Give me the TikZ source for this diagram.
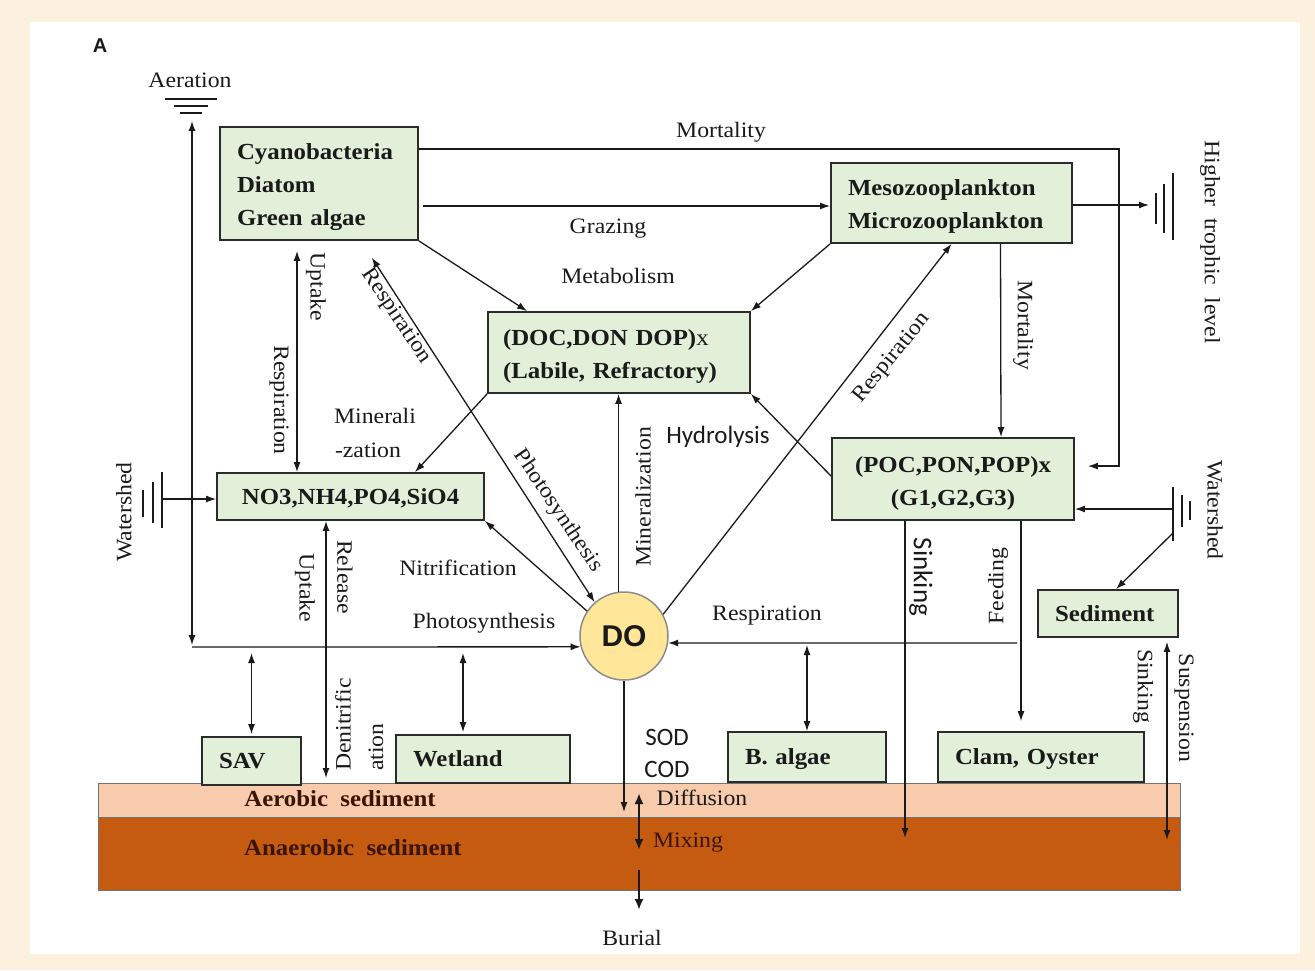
\documentclass[tikz,border=0pt]{standalone}
\usepackage{fontspec}
\setmainfont[FakeStretch=1.08]{Liberation Serif}
\newfontfamily\sansf{Carlito}
\newfontfamily\arialf{Liberation Sans}
\usetikzlibrary{arrows.meta,calc}
\definecolor{bgbeige}{HTML}{FBF1DE}
\definecolor{boxgreen}{HTML}{E2F0D9}
\definecolor{aerob}{HTML}{F8CBAD}
\definecolor{anaerob}{HTML}{C55A11}
\definecolor{doyellow}{HTML}{FFE699}
\definecolor{ink}{HTML}{1A1A1A}
\definecolor{edge}{HTML}{2B2B2B}
\definecolor{sedtext}{HTML}{3A1404}
\begin{document}
\begin{tikzpicture}[x=1pt,y=-1pt,
  lbl/.style={font=\fontsize{22}{24}\selectfont, text=ink, inner sep=0pt},
  slbl/.style={font=\sansf\fontsize{25}{27}\selectfont, text=ink, inner sep=0pt},
  compbox/.style={draw=edge, fill=boxgreen, line width=1.8pt, inner xsep=17pt, inner ysep=0pt, align=left, font=\bfseries\fontsize{23}{33}\selectfont, text=ink},
  conn/.style={line width=1.3pt, draw=ink},
  arr/.style={conn, -{Latex[length=10pt,width=7pt]}},
  arrboth/.style={conn, {Latex[length=10pt,width=7pt]}-{Latex[length=10pt,width=7pt]}},
  thickarr/.style={line width=2.6pt, draw=ink, -{Latex[length=11pt,width=9pt]}},
  thickboth/.style={line width=2.6pt, draw=ink, {Latex[length=11pt,width=9pt]}-{Latex[length=11pt,width=9pt]}},
  gnd/.style={line width=1.5pt, draw=ink}
]
\useasboundingbox (0,0) rectangle (1315,970);
\fill[bgbeige] (0,0) rectangle (1315,970);
\fill[white] (30,22) rectangle (1300,954);

% sediment layers
\node[draw=black!55, line width=1pt, fill=aerob, minimum width=1082pt, minimum height=34pt, inner sep=0pt] (aer) at (639,800) {};
\node[draw=black!55, line width=1pt, fill=anaerob, minimum width=1082pt, minimum height=73pt, inner sep=0pt] (anaer) at (639,853.5) {};
\node[lbl, font=\bfseries\fontsize{23}{24}\selectfont, text=sedtext] (aertxt) at (340,799) {Aerobic\ \ sediment};
\node[lbl, font=\bfseries\fontsize{23}{24}\selectfont, text=sedtext] (anaertxt) at (353,848) {Anaerobic\ \ sediment};

% boxes
\node[compbox, text depth=63pt, text width=164pt, minimum height=113pt] (cyano) at (319,183.5) {Cyanobacteria\\Diatom\\Green algae};
\node[compbox, text depth=30pt, text width=207pt, minimum height=80pt] (meso) at (951.5,203) {Mesozooplankton\\Microzooplankton};
\node[compbox, text depth=29pt, inner xsep=15pt, text width=232pt, minimum height=81pt] (doc) at (619,352.5) {(DOC,DON DOP)\textmd{x}\\(Labile, Refractory)};
\node[compbox, text depth=-3pt, align=center, text width=233pt, minimum height=47pt] (no3) at (350.5,496.5) {NO3,NH4,PO4,SiO4};
\node[compbox, text depth=29pt, align=center, text width=208pt, minimum height=82pt] (poc) at (953,479) {(POC,PON,POP)x\\(G1,G2,G3)};
\node[compbox, text depth=-3pt, text width=106pt, minimum height=47pt] (sed) at (1108,613.5) {Sediment};
\node[compbox, text depth=-3pt, text width=65pt, minimum height=48pt] (sav) at (251.5,761) {SAV};
\node[compbox, text depth=-3pt, text width=140pt, minimum height=48pt] (wet) at (483,759) {Wetland};
\node[compbox, text depth=-3pt, text width=124pt, minimum height=50pt] (balg) at (807,757) {B. algae};
\node[compbox, text depth=-3pt, text width=172pt, minimum height=50pt] (clam) at (1041,757) {Clam, Oyster};
\node[circle, draw=black!45, line width=1.5pt, fill=doyellow, minimum size=88pt, inner sep=0pt, font=\arialf\bfseries\fontsize{30}{30}\selectfont, text=ink] (DO) at (624,636) {DO};

% ground symbols
\draw[gnd] (165,99) -- (217,99) (174,106) -- (208,106) (180,113) -- (202,113);
\draw[gnd] (1156,193) -- (1156,224) (1164,184) -- (1164,233) (1173,173) -- (1173,240);
\draw[gnd] (143,490) -- (143,517) (153,482) -- (153,523) (162,472) -- (162,528);
\draw[gnd] (1173,487) -- (1173,541) (1182,495) -- (1182,527) (1190,501) -- (1190,520);

% free-end coordinates
\coordinate (aerTip) at (192,121);
\coordinate (lc) at (192,647);
\coordinate (lcTop) at (192,645);
\coordinate (htTip) at (1149,205);
\coordinate (wsR) at (1173,509);
\coordinate (wsR2) at (1173,533);
\coordinate (wsL) at (162,499);
\coordinate (sinkEnd) at (905,838);
\coordinate (respR) at (1017,643);
\coordinate (denEnd) at (326,778);
\coordinate (sodEnd) at (624,812);
\coordinate (mixTop) at (639,793);
\coordinate (mixBot) at (639,850);
\coordinate (burTop) at (639,870);
\coordinate (burBot) at (639,910);
\coordinate (suspEnd) at (1167,840);
\coordinate (feedTop) at ([xshift=68pt]poc.south);
\coordinate (wetTop) at ([xshift=-20pt]wet.north);

% connectors
\draw[arr, shorten >=13pt] ([yshift=-23pt]cyano.north east) -| ([xshift=44pt,yshift=-29pt]poc.north east) -- ([yshift=-29pt]poc.north east);
\draw[arr, shorten <=4pt] ([yshift=-22.5pt]cyano.east) -- ([yshift=-3pt]meso.west);
\draw[arr] (cyano.south east) -- ([xshift=40pt]doc.north west);
\draw[arr] (meso.south west) -- (doc.north east);
\draw[arr] (doc.south west) -- ([xshift=64.5pt]no3.north);
\draw[arrboth, shorten <=20pt] ([xshift=42pt]cyano.south) -- (DO.131);
\draw[arrboth, shorten <=10pt] ([xshift=-22pt]cyano.south) -- ([xshift=-53.5pt]no3.north);
\draw[arr] (DO.146) -- (no3.south east);
\draw[arr] (DO.97) -- (DO.97 |- doc.south);
\draw[arr] ([yshift=-39pt]poc.north west) -- (doc.south east);
\draw[arr] (DO.29) -- (meso.south);
\draw[arr] ([yshift=-2pt]meso.east) -- (htTip);
\draw[arr] ([xshift=49pt]meso.south) -- ([xshift=48pt]poc.north);
\draw[arr] (wsR) -- (wsR -| poc.east);
\draw[arr] (wsR2) -- ([xshift=8pt]sed.north);
\draw[arr] ([xshift=-48pt]poc.south) -- (sinkEnd);
\draw[arr, shorten >=10pt] (feedTop) -- (feedTop |- clam.north);
\draw[arr] (respR) -- (DO.-9);
\draw[arrboth, shorten <=2pt] (balg.north |- respR) -- (balg.north);
\draw[arrboth, shorten <=6pt, shorten >=2pt] (sav.north |- lc) -- (sav.north);
\draw[arrboth, shorten <=6pt, shorten >=2pt] (wetTop |- lc) -- (wetTop);
\draw[arrboth] ([xshift=-24.5pt]no3.south) -- (denEnd);
\draw[arrboth] (aerTip) -- (lcTop);
\draw[arr] (lc) -- (DO.194.5);
\draw[arr] (wsL) -- (wsL -| no3.west);
\draw[arr] (DO.south) -- (sodEnd);
\draw[thickboth] (mixTop) -- (mixBot);
\draw[thickarr] (burTop) -- (burBot);
\draw[arrboth, shorten <=4pt] ([xshift=59pt]sed.south) -- (suspEnd);

% labels
\node[font=\arialf\bfseries\fontsize{20}{20}\selectfont, text=ink, inner sep=0pt] (lA) at (100,46) {A};
\node[lbl] (lAer) at (190,80) {Aeration};
\node[lbl] (lMort) at (721,132) {Mortality};
\node[lbl] (lGraz) at (608,229) {Grazing};
\node[lbl] (lMetab) at (618,276) {Metabolism};
\node[lbl, rotate=-90] (lUpt1) at (316,287) {Uptake};
\node[lbl, rotate=-90] (lResp1) at (279,400) {Respiration};
\node[lbl, rotate=-56] (lResp2) at (396,316) {Respiration};
\node[lbl] (lMin1) at (375,416) {Minerali};
\node[lbl] (lMin2) at (368,450) {-zation};
\node[lbl, rotate=-56] (lPhot1) at (558,511) {Photosynthesis};
\node[lbl, rotate=90] (lMin3) at (643,497) {Mineralization};
\node[slbl] (lHyd) at (718,437) {Hydrolysis};
\node[lbl, rotate=51] (lResp3) at (892,358) {Respiration};
\node[lbl, rotate=-90] (lMort2) at (1023,325) {Mortality};
\node[lbl, rotate=-90] (lHigh) at (1210,242) {Higher~~trophic~~level};
\node[lbl, rotate=90] (lWsL) at (124,512) {Watershed};
\node[lbl, rotate=-90] (lWsR) at (1215,510) {Watershed};
\node[lbl] (lNit) at (458,568) {Nitrification};
\node[lbl] (lPhot2) at (484,623) {Photosynthesis};
\node[lbl] (lResp4) at (767,616) {Respiration};
\node[lbl, rotate=-90] (lUpt2) at (305,588) {Uptake};
\node[lbl, rotate=-90] (lRel) at (345,577) {Release};
\node[lbl, rotate=90, anchor=west] (lDen1) at (343,771) {Denitrific};
\node[lbl, rotate=90, anchor=west] (lDen2) at (376,771) {ation};
\node[slbl, font=\sansf\fontsize{27}{28}\selectfont, rotate=-90] (lSink1) at (921,577) {Sinking};
\node[lbl, rotate=90] (lFeed) at (998,586) {Feeding};
\node[lbl, rotate=-90] (lSink2) at (1143,686) {Sinking};
\node[lbl, rotate=-90] (lSusp) at (1184,708) {Suspension};
\node[slbl] (lSOD) at (667,737) {SOD};
\node[slbl] (lCOD) at (667,769) {COD};
\node[lbl] (lDiff) at (702,798) {Diffusion};
\node[lbl, text=sedtext] (lMix) at (688,843) {Mixing};
\node[lbl] (lBur) at (632,938) {Burial};
\end{tikzpicture}
\end{document}
